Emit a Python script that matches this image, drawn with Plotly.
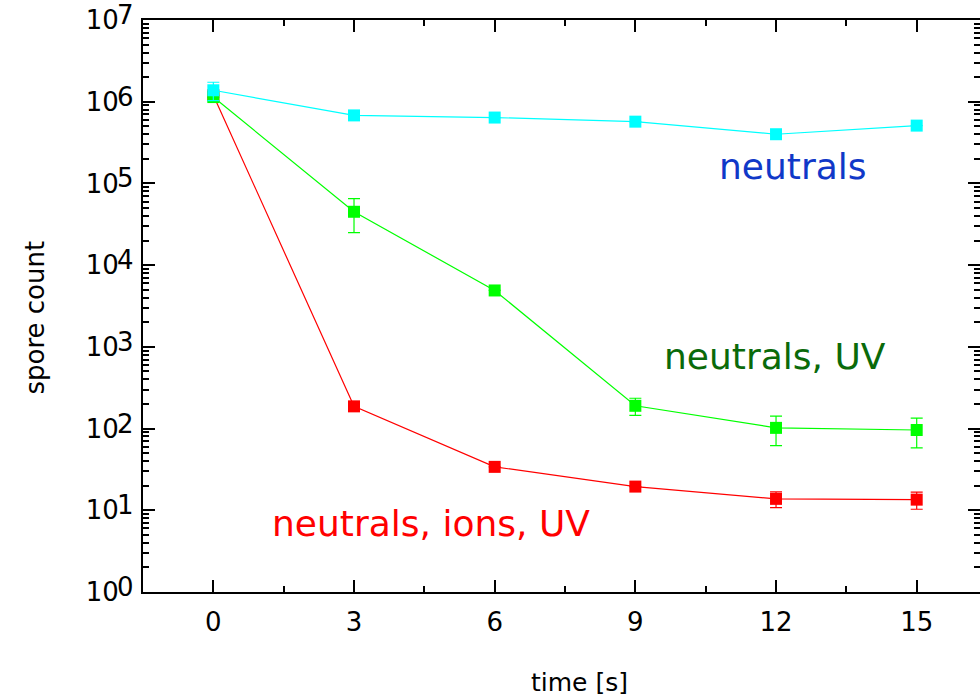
import plotly.graph_objects as go

time_s = [0, 3, 6, 9, 12, 15]

neutrals = [1.38e6, 6.8e5, 6.4e5, 5.7e5, 4.0e5, 5.1e5]
neutrals_err = [0.35e6, 0, 0, 0, 0, 0]

neutrals_uv = [1.14e6, 4.5e4, 4.9e3, 190, 102, 96]
neutrals_uv_err = [0, 2.0e4, 0, 45, 40, 38]

neutrals_ions_uv = [1.2e6, 187, 34, 19.5, 13.8, 13.5]
neutrals_ions_uv_err = [0, 0, 0, 0, 3.0, 3.2]

x_ticks = [0, 3, 6, 9, 12, 15]
y_exponents = [0, 1, 2, 3, 4, 5, 6, 7]

x_title = "time [s]"
y_title = "spore count"

FONT = "DejaVu Sans, Liberation Sans, Arial, sans-serif"

series = [
    ("neutrals, ions, UV", neutrals_ions_uv, neutrals_ions_uv_err, "#ff0000"),
    ("neutrals, UV", neutrals_uv, neutrals_uv_err, "#00ff00"),
    ("neutrals", neutrals, neutrals_err, "#00ffff"),
]

fig = go.Figure()
for name, vals, errs, col in series:
    fig.add_trace(go.Scatter(
        x=time_s, y=vals, name=name, mode="lines+markers",
        line=dict(color=col, width=1.2),
        marker=dict(symbol="square", size=12, color=col, line=dict(width=0)),
        error_y=dict(type="data", array=errs, visible=True, color=col,
                     thickness=1.2, width=6),
        showlegend=False,
    ))

labels = [
    ("neutrals", 12.36, 5.21, "#1038c8"),
    ("neutrals, UV", 11.97, 2.88, "#0a6a0a"),
    ("neutrals, ions, UV", 4.65, 0.835, "#ff0000"),
]
for txt, ax_, ay_, col in labels:
    fig.add_annotation(x=ax_, y=ay_, text=txt, showarrow=False,
                       font=dict(family=FONT, size=36, color=col),
                       xanchor="center", yanchor="middle")

# y tick labels: mantissa "10" on the axis, exponent as raised text beside it
ytickvals = [10 ** e for e in y_exponents]
yticktext = ["10" for e in y_exponents]
for e in y_exponents:
    fig.add_annotation(xref="paper", yref="y", x=-0.034, y=e, yshift=5,
                       text=str(e), showarrow=False, xanchor="left",
                       yanchor="middle",
                       font=dict(family=FONT, size=26, color="black"))

# axis titles (placed as in the reference, slightly off-centre)
fig.add_annotation(xref="paper", yref="paper", x=0.522, y=-0.159,
                   text=x_title, showarrow=False, xanchor="center",
                   yanchor="middle", font=dict(family=FONT, size=25, color="black"))
fig.add_annotation(xref="paper", yref="paper", x=-0.1296, y=0.479,
                   text=y_title, showarrow=False, textangle=-90,
                   xanchor="center", yanchor="middle",
                   font=dict(family=FONT, size=26, color="black"))

yminor = [m * 10 ** e for e in y_exponents[:-1] for m in range(2, 10)]

fig.update_layout(
    width=980, height=699,
    margin=dict(l=143, r=0, t=20, b=107),
    plot_bgcolor="white", paper_bgcolor="white",
    font=dict(family=FONT, color="black"),
    xaxis=dict(
        range=[-1.5, 16.35], tickvals=x_ticks, ticks="inside", ticklen=12,
        tickwidth=2, tickcolor="black", showline=True, linewidth=2,
        linecolor="black", mirror="allticks", showgrid=False, zeroline=False,
        tickfont=dict(size=26), ticklabelstandoff=6, automargin=False,
        ticklabeloverflow="allow",
        minor=dict(dtick=1.5, tick0=0, ticks="inside", ticklen=6, tickwidth=2,
                   tickcolor="black", showgrid=False),
    ),
    yaxis=dict(
        type="log", range=[0, 7], tickvals=ytickvals, ticktext=yticktext,
        ticks="inside", ticklen=12, tickwidth=2, tickcolor="black",
        showline=True, linewidth=2, linecolor="black", mirror="allticks",
        showgrid=False, zeroline=False, tickfont=dict(size=26),
        ticklabelstandoff=17, automargin=False, ticklabeloverflow="allow",
        minor=dict(tickvals=yminor, ticks="inside", ticklen=6, tickwidth=1.5,
                   tickcolor="black", showgrid=False),
    ),
)

# the default page body margin would shift the 980x699 figure; remove it
fig.write_html(
    "out.html",
    config={"displayModeBar": False},
    post_script="document.body.style.margin='0';document.body.style.overflow='hidden';",
)
